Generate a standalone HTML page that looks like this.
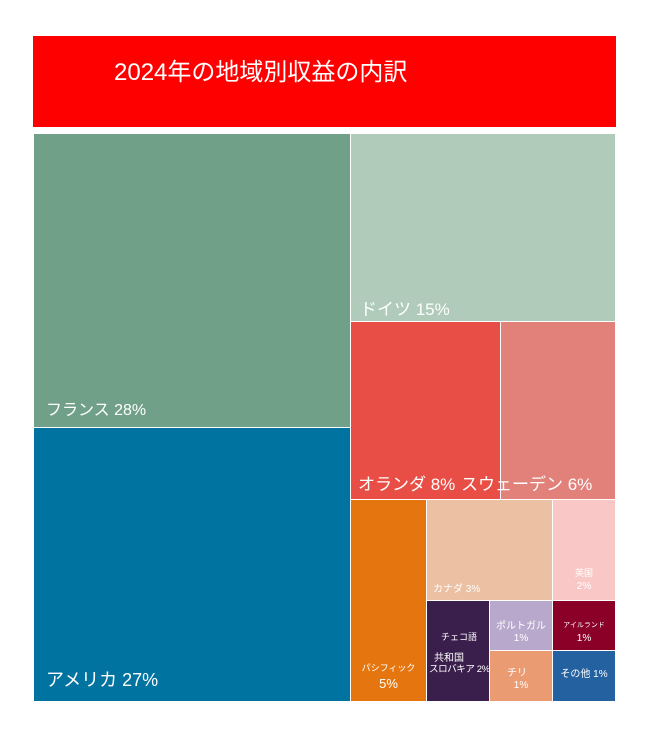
<!DOCTYPE html>
<html><head><meta charset="utf-8"><style>
body{margin:0;width:646px;height:740px;background:#fff;position:relative;overflow:hidden;font-family:"Liberation Sans","Noto Sans CJK JP",sans-serif;color:#fff}
.c{position:absolute;box-sizing:border-box}
.t{position:absolute;white-space:nowrap}
</style></head><body>
<div class="c" style="left:33px;top:36px;width:583px;height:91px;background:#ff0000"></div>
<div class="t" style="left:114px;top:52px;font-size:24px">2024年の地域別収益の内訳</div>

<div class="c" style="left:34px;top:134px;width:316px;height:293px;background:#70a087"></div>
<div class="t" style="left:46px;top:396px;font-size:16px">フランス 28%</div>
<div class="c" style="left:34px;top:428px;width:316px;height:273px;background:#0073a0"></div>
<div class="t" style="left:46px;top:666px;font-size:18px">アメリカ 27%</div>

<div class="c" style="left:351px;top:134px;width:264px;height:187px;background:#b0cbb9"></div>
<div class="t" style="left:360px;top:295px;font-size:17px">ドイツ 15%</div>
<div class="c" style="left:351px;top:322px;width:149px;height:177px;background:#e84e45"></div>
<div class="t" style="left:358px;top:470px;font-size:17px">オランダ 8%</div>
<div class="c" style="left:501px;top:322px;width:114px;height:177px;background:#e2807a"></div>
<div class="t" style="left:461px;top:470px;font-size:17px">スウェーデン 6%</div>

<div class="c" style="left:351px;top:500px;width:75px;height:201px;background:#e5760f"></div>
<div class="t" style="left:351px;top:661px;width:75px;text-align:center;font-size:9px">パシフィック</div>
<div class="t" style="left:351px;top:676px;width:75px;text-align:center;font-size:13px">5%</div>

<div class="c" style="left:427px;top:500px;width:125px;height:100px;background:#ebc0a3"></div>
<div class="t" style="left:433px;top:580px;font-size:10px">カナダ 3%</div>
<div class="c" style="left:553px;top:500px;width:62px;height:100px;background:#f9c8c6"></div>
<div class="t" style="left:553px;top:566px;width:62px;text-align:center;font-size:9px">英国</div>
<div class="t" style="left:553px;top:581px;width:62px;text-align:center;font-size:10px">2%</div>

<div class="c" style="left:427px;top:601px;width:62px;height:100px;background:#3a1f4c"></div>
<div class="t" style="left:441px;top:630px;font-size:9px">チェコ語</div>
<div class="t" style="left:434px;top:649px;font-size:10px">共和国</div>
<div class="t" style="left:429px;top:661px;font-size:9.5px;letter-spacing:-0.4px;z-index:2">スロバキア 2%</div>
<div class="c" style="left:490px;top:601px;width:62px;height:49px;background:#b8a9cc"></div>
<div class="t" style="left:490px;top:621px;width:62px;text-align:center;font-size:10px;line-height:12px">ポルトガル<br>1%</div>
<div class="c" style="left:490px;top:651px;width:62px;height:50px;background:#ea9b72"></div>
<div class="t" style="left:507px;top:664px;font-size:10px">チリ</div>
<div class="t" style="left:490px;top:680px;width:62px;text-align:center;font-size:10px">1%</div>
<div class="c" style="left:553px;top:601px;width:62px;height:49px;background:#8a0026"></div>
<div class="t" style="left:553px;top:620px;width:62px;text-align:center;font-size:7px">アイルランド</div>
<div class="t" style="left:553px;top:633px;width:62px;text-align:center;font-size:10px">1%</div>
<div class="c" style="left:553px;top:651px;width:62px;height:50px;background:#2361a0"></div>
<div class="t" style="left:553px;top:665px;width:62px;text-align:center;font-size:10px">その他 1%</div>
</body></html>
